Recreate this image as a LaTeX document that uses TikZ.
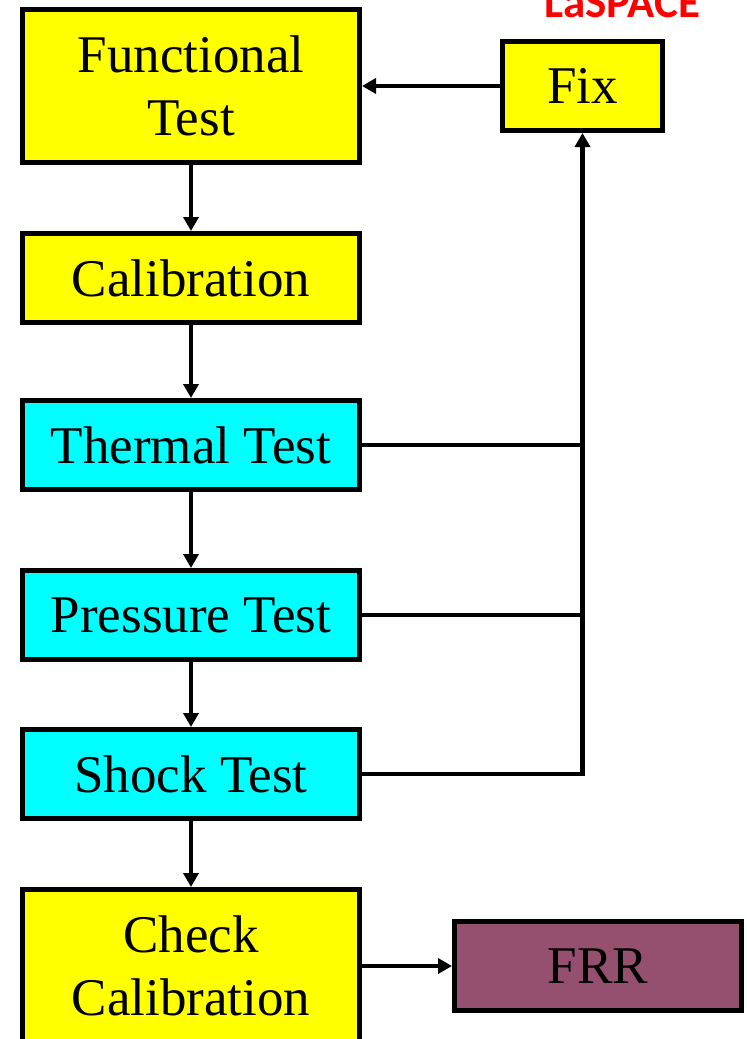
\documentclass[tikz,border=0pt]{standalone}
\usepackage{fontspec}
\setmainfont{Liberation Serif}
\newfontfamily\logofont{Carlito}
\usetikzlibrary{positioning, arrows.meta}

\definecolor{boxyellow}{RGB}{255,255,0}
\definecolor{boxcyan}{RGB}{0,255,255}
\definecolor{frrpurple}{RGB}{149,80,112}

\begin{document}
\begin{tikzpicture}[x=1pt, y=1pt, >={Triangle[length=14pt,width=15pt]},
  base/.style={draw, line width=5pt, align=center, inner sep=0pt,
               minimum width=337pt, minimum height=89pt,
               font=\fontsize{53}{63}\selectfont},
  prep/.style={base, fill=boxyellow}, env/.style={base, fill=boxcyan},
  link/.style={line width=4.5pt}]
  \useasboundingbox (0,0) rectangle (747,-1039);
  % title (cut off at the top)
  \node[anchor=base, text=red, font=\logofont\bfseries\fontsize{45}{50}\selectfont]
    (logo) at (622,-17) {LaSPACE};
  % main column
  \node[prep, minimum height=153pt] (func) at (191,-86) {Functional\\ Test};
  \node[prep, below=66pt of func]   (calib)    {Calibration};
  \node[env, below=73pt of calib]   (thermal)  {Thermal Test};
  \node[env, below=76pt of thermal] (pressure) {Pressure Test};
  \node[env, below=65pt of pressure] (shock)   {Shock Test};
  \node[prep, minimum height=153pt, below=66pt of shock] (check) {Check\\ Calibration};
  % side boxes
  \node[prep, minimum width=160pt, right=138pt of func] (fix) {Fix};
  \node[base, fill=frrpurple, minimum width=287pt, right=90pt of check] (frr) {FRR};
  % edges
  \draw[link, ->] (func) -- (calib);
  \draw[link, ->] (calib) -- (thermal);
  \draw[link, ->] (thermal) -- (pressure);
  \draw[link, ->] (pressure) -- (shock);
  \draw[link, ->] (shock) -- (check);
  \draw[link, ->] (check) -- (frr);
  \draw[link, ->] (fix) -- (func);
  % failures go back to fix
  \draw[link] (thermal) -- (thermal -| fix);
  \draw[link] (pressure) -- (pressure -| fix);
  \draw[link, ->] (shock) -| (fix);
\end{tikzpicture}
\end{document}
